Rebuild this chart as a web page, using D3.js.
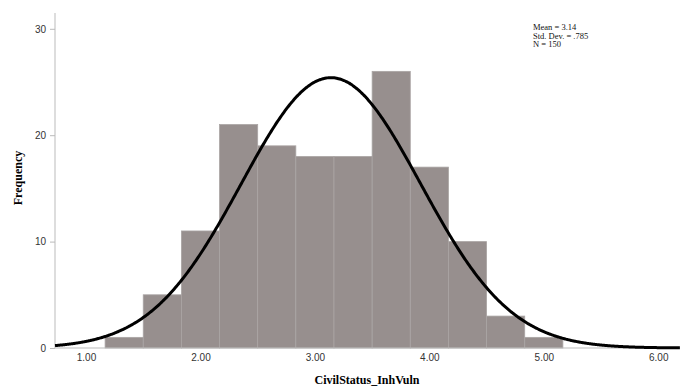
<!DOCTYPE html>
<html><head><meta charset="utf-8">
<script src="https://cdn.jsdelivr.net/npm/d3@7"></script>
<style>body{margin:0;background:#fff}svg{display:block}</style>
</head><body>
<svg id="c" width="680" height="388"></svg>
<script>
// Histogram bins (lower edge, upper edge) and counts
const binEdges = [1.1667,1.5,1.8333,2.1667,2.5,2.8333,3.1667,3.5,3.8333,4.1667,4.5,4.8333,5.1667];
const counts   = [1,5,11,21,19,18,18,26,17,10,3,1];
const xTicks   = [1,2,3,4,5,6];
const yTicks   = [0,10,20,30];
const statsLines = ["Mean = 3.14","Std. Dev. = .785","N = 150"];
const mean = 3.14, sd = 0.785, n = 150;

const svg = d3.select("#c");
const x = d3.scaleLinear().domain([0.729, 6.19]).range([55, 680]);
const y = d3.scaleLinear().domain([0, 30]).range([348, 28.8]);

// bars
const bins = counts.map((c,i)=>({x0:binEdges[i], x1:binEdges[i+1], c}));
svg.append("g").selectAll("rect").data(bins).join("rect")
  .attr("x", d=>x(d.x0)).attr("width", d=>x(d.x1)-x(d.x0))
  .attr("y", d=>y(d.c)).attr("height", d=>y(0)-y(d.c))
  .attr("fill", "#978f8e").attr("stroke", "#aaa5a4").attr("stroke-width", 0.8);

// axes
const gy = svg.append("g").attr("transform","translate(55,0)")
  .call(d3.axisLeft(y).tickValues(yTicks).tickFormat(d3.format("d")).tickSize(5).tickPadding(4));
gy.select(".domain").attr("d","M0,13V348").attr("stroke","#bbb");
gy.selectAll(".tick line").attr("stroke","#bbb");
gy.selectAll("text").attr("font-family","Arial, Liberation Sans, sans-serif").attr("font-size",10).attr("fill","#333");

const gx = svg.append("g").attr("transform","translate(0,348)")
  .call(d3.axisBottom(x).tickValues(xTicks).tickFormat(d3.format(".2f")).tickSize(0).tickPadding(6));
gx.select(".domain").attr("d","M55,0H680").attr("stroke","#bbb");
gx.selectAll("text").attr("font-family","Arial, Liberation Sans, sans-serif").attr("font-size",10).attr("fill","#333");

// normal curve from stated mean / sd / N
const bw = binEdges[1]-binEdges[0];
const xs = d3.range(0.729, 6.19, 0.01);
const line = d3.line().x(d=>x(d)).y(d=>y(n*bw*Math.exp(-0.5*((d-mean)/sd)**2)/(sd*Math.sqrt(2*Math.PI)))).curve(d3.curveBasis);
svg.append("path").datum(xs).attr("d", line).attr("fill","none").attr("stroke","#000").attr("stroke-width",3);

// titles
svg.append("text").attr("x",367).attr("y",384).attr("text-anchor","middle")
  .attr("font-family","Liberation Serif, Times New Roman, serif").attr("font-weight","bold").attr("font-size",12)
  .text("CivilStatus_InhVuln");
svg.append("text").attr("transform","translate(22,178) rotate(-90)").attr("text-anchor","middle")
  .attr("font-family","Liberation Serif, Times New Roman, serif").attr("font-weight","bold").attr("font-size",12)
  .text("Frequency");

// stats box
svg.append("g").selectAll("text").data(statsLines).join("text")
  .attr("x",533).attr("y",(d,i)=>30+i*8.5)
  .attr("font-family","Liberation Serif, Times New Roman, serif").attr("font-size",8.5).attr("fill","#111")
  .text(d=>d);
</script>
</body></html>
